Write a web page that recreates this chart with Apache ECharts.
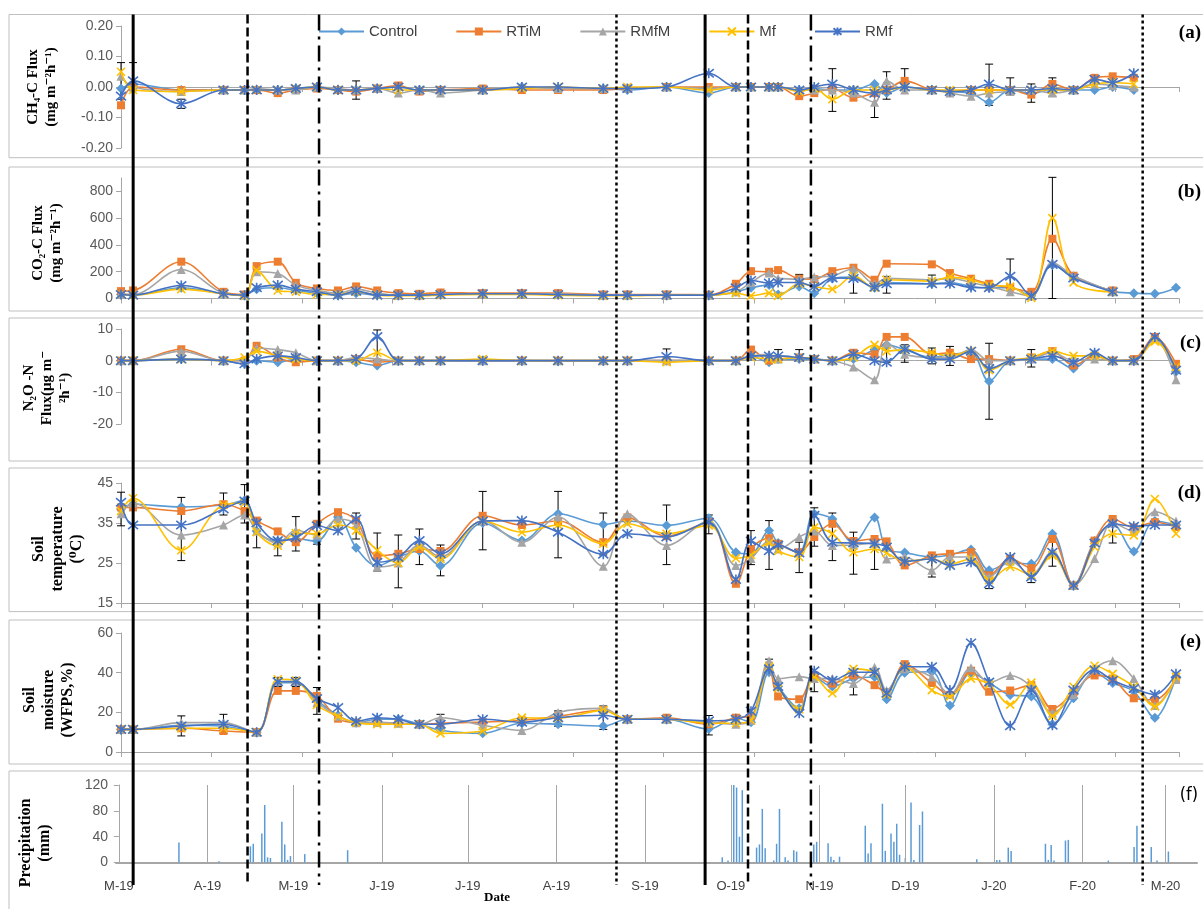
<!DOCTYPE html>
<html>
<head>
<meta charset="utf-8">
<script src="https://cdn.jsdelivr.net/npm/echarts@6/dist/echarts.min.js"></script>
<style>
  html, body { margin: 0; padding: 0; background: #fff; }
  #chart { width: 1203px; height: 909px; }
</style>
</head>
<body>
<div id="chart"></div>
<script>
// sampling days (day 0 = first sampling, Mar 2019)
const sampleDays = [0, 4, 20, 34, 41, 45, 52, 58, 65, 72, 78, 85, 92, 99, 106, 120, 133, 145, 160, 168,
  181, 195, 204, 209, 215, 218, 225, 230, 236, 243, 250, 254, 260, 269, 275, 282, 288, 295, 302, 309,
  316, 323, 329, 336, 343, 350];
const treatments = ['Control', 'RTiM', 'RMfM', 'Mf', 'RMf'];

// (a) CH4-C flux, one row per treatment
const ch4Flux = [
  [-0.005, 0.01, -0.01, -0.01, -0.01, -0.01, -0.01, -0.005, 0, -0.01, -0.01, -0.005, 0, -0.01, -0.01, -0.01, 0, -0.005, -0.005, -0.01,
    0, -0.02, 0, 0, 0, 0, -0.01, -0.005, -0.01, -0.01, 0.01, -0.02, 0, -0.01, -0.015, -0.02, -0.05, -0.01, -0.02, -0.01,
    -0.01, -0.01, 0, -0.01, null, null],
  [-0.06, 0, -0.01, -0.01, -0.01, -0.01, -0.02, -0.01, -0.005, -0.01, -0.015, -0.005, 0.005, -0.015, -0.01, -0.005, -0.01, -0.01, -0.01, -0.005,
    0, 0, 0, 0, 0, 0, -0.03, -0.02, -0.005, -0.035, -0.02, -0.01, 0.02, -0.01, -0.015, -0.01, -0.01, -0.01, -0.025, 0.01,
    -0.01, 0.03, 0.035, 0.03, null, null],
  [0.035, 0, -0.015, -0.01, -0.01, -0.005, -0.01, -0.01, 0, -0.005, -0.01, -0.005, -0.02, -0.01, -0.02, -0.01, 0, -0.005, -0.005, -0.005,
    0, -0.005, 0, 0, 0, 0, -0.01, -0.01, -0.01, -0.02, -0.05, 0.02, -0.01, -0.01, -0.02, -0.03, -0.02, -0.015, -0.01, -0.02,
    -0.01, 0.01, 0.005, 0, null, null],
  [0.05, -0.01, -0.015, -0.01, -0.01, -0.01, -0.01, -0.005, 0, -0.01, -0.01, -0.005, -0.01, -0.01, -0.01, -0.01, -0.005, 0, -0.005, 0,
    0, -0.01, 0, 0, 0, 0, -0.015, -0.005, -0.04, -0.01, -0.01, -0.01, 0, -0.01, -0.01, -0.01, -0.01, -0.01, -0.01, -0.01,
    -0.01, 0.01, 0.015, 0.01, null, null],
  [-0.03, 0.02, -0.055, -0.01, -0.01, -0.01, -0.01, -0.005, 0, -0.01, -0.01, -0.005, 0, -0.01, -0.01, -0.01, 0, 0, -0.005, -0.005,
    0, 0.045, 0, 0, 0, 0, -0.01, 0, 0.01, -0.01, -0.02, -0.01, 0, -0.01, -0.015, -0.01, 0.01, -0.01, -0.01, -0.005,
    -0.01, 0.025, 0.015, 0.045, null, null]
];
const ch4Errors = [[0, -0.04, 0.08], [4, -0.01, 0.08], [20, -0.07, -0.04], [78, -0.04, 0.02], [236, -0.08, 0.06],
  [250, -0.1, -0.01], [254, -0.04, 0.05], [260, -0.01, 0.06], [288, -0.06, 0.075], [295, -0.01, 0.03],
  [302, -0.05, 0.01], [309, -0.03, 0.03]];

// (b) CO2-C flux
const co2Flux = [
  [30, 25, 80, 35, 25, 70, 80, 60, 40, 25, 40, 25, 25, 25, 30, 35, 35, 30, 25, 25,
    25, 25, 50, 80, 100, 30, 90, 40, 150, 160, 80, 120, null, 110, 120, 90, 80, 80, 20, 250,
    165, null, 55, 40, 35, 80],
  [55, 60, 275, 50, 30, 242, 275, 117, 75, 60, 90, 60, 40, 35, 45, 40, 40, 40, 30, 30,
    30, 28, 110, 204, 200, 212, 148, 145, 204, 230, 140, 260, null, 255, 190, 148, 110, 80, 50, 446,
    170, null, 60, null, null, null],
  [35, 30, 217, 40, 25, 200, 187, 100, 60, 40, 70, 40, 25, 25, 30, 35, 35, 35, 25, 25,
    25, 25, 50, 120, 190, 150, 145, 160, 170, 220, 110, 150, null, 140, 150, 120, 90, 50, 20, 268,
    170, null, 50, null, null, null],
  [30, 25, 70, 35, 20, 210, 60, 50, 30, 30, 50, 25, 20, 20, 25, 30, 30, 25, 20, 20,
    25, 25, 40, 20, 40, 20, 110, 90, 70, 170, 80, 140, null, 130, 160, 140, 100, 89, 5, 600,
    120, null, 50, null, null, null],
  [30, 25, 97, 35, 25, 80, 100, 70, 50, 25, 55, 25, 25, 25, 30, 35, 35, 30, 25, 25,
    25, 25, 80, 135, 115, 120, 120, 90, 153, 150, 85, 110, null, 110, 110, 82, 80, 166, 20, 255,
    153, null, 50, null, null, null]
];
const co2Errors = [[58, 60, 110], [225, 120, 180], [243, 40, 140], [254, 40, 165], [269, 130, 175],
  [295, 80, 295], [309, 0, 905]];

// (c) N2O-N flux
const n2oFlux = [
  [0, 0, 0.5, 0, -1, 0, -0.5, 0.5, 0, 0, -0.5, -1.5, 0, 0, 0, 0, 0, -0.2, 0, 0,
    0, 0, 0, 1.5, -0.5, 0.5, 0.5, 0.5, 0, 0.5, 3.5, 5, 3.5, 1, 2, 2.5, -6.5, 0, 0.5, 0.5,
    -2.5, 2, 0, 0, 7, -3.5],
  [0, 0, 3.6, 0, 0, 4.7, 1, -0.5, 0, 0, 0.5, -0.5, 0, 0, 0, 0, 0, 0, 0, 0,
    0, 0, 0, 3.5, 0, 0.5, 1, 0.5, 0, 2.5, 2, 7.5, 7.5, 2, 2.5, 0.5, 0.5, 0, 1, 3,
    -1.5, 1.5, 0, 0.5, 7.5, -1],
  [0, 0, 3, 0, 0, 4, 3.5, 2.5, 0, 0, 1, 0.5, 0, 0, 0, 0, 0, 0, 0, 0,
    0, 0, 0, 1.5, 2, 0.5, 1, 0.5, 0, -2, -6, 5.5, 2, 1, 1, 3.5, 0, 0, 0.5, 2.5,
    0, 0.5, 0, 0, 7, -6],
  [0, 0, 0.5, 0, 1, 3, 1.5, 0.5, 0, 0, 0, 2.5, 0, 0, 0, 0.5, 0, 0, 0, 0,
    -0.5, 0, 0, 1, 0.5, 0.5, 1, 0.5, 0, 1, 5, 3, 3.5, 2.5, 1.5, 3, -3, 0, 1, 3,
    1.5, 1.5, 0, 0, 6, -2],
  [0, 0, 0.5, 0, -1, 0.5, 1.5, 1, 0, 0, 0.5, 7.6, 0, 0, 0, 0, 0, 0, 0, 0,
    1.3, 0, 0, 1.5, 1.5, 1.5, 1, 0.5, 0, 2, 0, -0.5, 3.5, 0.5, 0.5, 3, -2.5, 0, 0.5, 1.5,
    -0.5, 2.5, 0, 0, 7.5, -3]
];
const n2oErrors = [[85, 0, 9.7], [181, 0, 3.7], [218, 0, 3.5], [225, 0, 3.5], [254, -0.5, 4], [260, -0.5, 5],
  [269, -1, 4], [275, -1.5, 4.5], [288, -18.5, 5.5], [302, -2, 3.5]];

// (d) soil temperature
const soilTemp = [
  [38.5, 39.7, 39, 39.5, 40.6, 33, 30.5, 31, 30.5, 36.5, 28.8, 24.3, 26.5, 28, 24.3, 35, 30.6, 37.3, 34.6, 35.5,
    34.4, 36.2, 27.7, 27.3, 33.1, 30, 27.7, 37.3, 36, 30, 36.4, 28.5, 27.6, 26.5, 27, 28.4, 23.2, 25, 24.8, 32.3,
    19.4, 30.5, 34.8, 27.9, 35.5, 34.5],
  [38.9, 38.9, 38, 39.7, 38, 35.6, 32.9, 30.2, 34.8, 37.7, 35.6, 26.8, 27.3, 28.5, 28, 36.8, 34.5, 35.5, 30.2, 36.4,
    31.7, 35.2, 19.8, 28.5, 31.2, 29.8, 27.7, 31.5, 34.8, 30.5, 31, 30.4, 24.4, 26.9, 27.3, 27.7, 21.9, 26.1, 23.7, 31,
    19.4, 30.6, 36, 33.9, 35.2, 34],
  [37.3, 40, 32, 34.5, 37, 33, 30, 33.2, 32, 36, 34.5, 24, 25, 29.5, 26.5, 35.5, 30.2, 36.5, 24.2, 37.3,
    29.4, 35.5, 24.4, 26.1, 30.5, 28.5, 31.5, 33, 29.4, 29.5, 30, 26, 26.5, 23.2, 26.5, 26.5, 21.5, 25.5, 22, 28,
    19.4, 26.1, 35, 33, 37.8, 35.5],
  [38, 41.2, 28.2, 39.5, 40, 32.7, 29.3, 32.5, 32.3, 34.5, 33.1, 28.2, 25, 29, 26, 35.5, 32.7, 34.5, 29.8, 34.8,
    32.3, 34.4, 26.2, 27, 30, 28, 26.5, 33.9, 32.3, 27.7, 28.5, 27.5, 25.5, 26, 24.8, 26, 20.7, 24, 22, 26.9,
    19.4, 29, 32.3, 31.9, 41, 32.3],
  [40.2, 34.5, 34.5, 38.5, 40.5, 35, 30.6, 31.3, 34.3, 33.1, 36, 25.2, 26.4, 30.6, 27.3, 35.5, 35.6, 32.7, 27.2, 32.3,
    31.5, 35.2, 20.9, 30.5, 28.1, 29.5, 27.5, 36.9, 30.2, 30, 29.8, 29, 25.4, 26, 24.4, 25.2, 19.8, 26.5, 21.5, 27.7,
    19.4, 30, 34.8, 34.2, 34.5, 34.5]
];
const tempErrors = [[0, 34.3, 42.7], [20, 25.6, 41.4], [34, 37, 42.5], [41, 35, 44.6], [45, 28.8, 36], [52, 26.8, 31],
  [58, 28, 36.6], [65, 29.7, 34.5], [78, 31, 37.5], [85, 23, 32.5], [92, 18.8, 32], [99, 24.6, 33.5],
  [106, 21.8, 29.5], [120, 28.3, 42.9], [145, 26.3, 42.9], [160, 27, 37.5], [181, 24.6, 39.5], [195, 32.3, 37],
  [209, 24.6, 33.1], [215, 23.4, 35.6], [225, 22.6, 30.2], [230, 29.2, 38.8], [236, 25.6, 37.5], [243, 22.2, 32.7],
  [250, 23.4, 31], [269, 21.5, 26.5], [288, 18.6, 23], [302, 20.1, 24], [309, 24.2, 31], [329, 30, 36]];

// (e) soil moisture (WFPS, %)
const soilMoisture = [
  [11.4, 11.4, 13.5, 13, null, 10, 35, 35, 26, 18.5, 14.8, 16.5, 16.5, 14, 11, 9.4, 14.5, 14, 13.1, 16.5,
    16.5, 11.6, 17, 15, 40.2, 33, 22, 38, 33, 37, 37.8, 26.6, 40, 40.5, 23.4, 40, 35, 28.8, 28, 14,
    27.1, 40, 34.8, 30.5, 17.3, 38],
  [11.4, 11.4, 12, 10.6, null, 10, 30.8, 30.8, 28.3, 16.8, 14.8, 14.8, 14.5, 14, 14.5, 15.1, 16, 18, 21.2, 16.5,
    17.3, 14, 17.3, 18.1, 43.5, 28, 26.6, 38.6, 34.5, 38.6, 33.7, 30, 44.3, 34.8, 28.8, 41, 30.4, 31, 33.7, 21.7,
    30, 38.6, 37, 27.1, 26.3, 37],
  [11.4, 11.4, 14.8, 14.8, null, 10, 35.5, 35.5, 25, 18, 14.8, 15, 14.5, 14, 17.3, 13.5, 10.9, 19.9, 22, 16.5,
    16.5, 15, 14, 16, 46, 37, 38, 37, 37, 34.5, 42.7, 31, 42, 37.8, 29, 42.5, 35, 38.6, 33, 19.7,
    29, 41.9, 46, 37, 23.5, 36.5],
  [11.4, 11.4, 12, 12, null, 10, 36.7, 36, 23.7, 18, 14.8, 14, 14, 14, 9.4, 10.6, 17.3, 17, 21, 16.5,
    16.5, 14.5, 14.5, 16, 43, 32, 21.5, 38, 29.6, 41.9, 40, 29, 43, 31.2, 28, 37, 34, 23.9, 35, 18.1,
    32.9, 43.5, 39.4, 33, 23, 38],
  [11.4, 11.4, 13.1, 14, null, 10, 35.4, 35.5, 27, 22.4, 15.5, 17.3, 16.5, 14, 14, 16.5, 15, 17.3, 18.5, 16.5,
    16.5, 15.7, 16.5, 20.6, 41.9, 33, 19.5, 41, 36.1, 40.2, 40.2, 29.6, 43, 43, 31.2, 55, 35.3, 13.2, 31.2, 13.5,
    31.2, 41.4, 36.1, 32, 29, 39.4]
];
const moistErrors = [[20, 8.1, 18.2], [34, 9.5, 19], [52, 33, 37.6], [58, 33, 37.6], [65, 19, 32.5], [106, 12, 19],
  [145, 13, 20.7], [160, 11.4, 23.2], [195, 8.6, 18.4], [215, 40, 46.8], [230, 30.4, 40], [243, 28.8, 38],
  [309, 14, 23]];

// (f) daily precipitation, day 0 = 1 Mar 2019
const rainDays = [21, 35, 46, 47, 50, 51, 52, 53, 57, 58, 59, 60, 65, 80, 211, 213, 215, 216, 217, 218, 220, 223, 224,
  225, 226, 229, 230, 231, 233, 234, 236, 237, 243, 244, 248, 249, 250, 252, 261, 262, 263, 267, 268, 270, 271, 272,
  273, 275, 277, 278, 280, 281, 300, 307, 308, 311, 312, 324, 325, 326, 327, 331, 332, 346, 355, 356, 361, 363, 367];
const rainMm = [31, 2, 25, 29, 45, 89, 8, 7, 63, 28, 4, 10, 13, 19, 8, 3, 120, 116, 40, 112, 5, 23, 28,
  83, 22, 3, 29, 83, 8, 3, 19, 17, 28, 32, 30, 9, 4, 9, 57, 14, 30, 91, 18, 45, 32, 60,
  12, 7, 93, 4, 58, 79, 5, 4, 4, 23, 18, 29, 4, 27, 3, 34, 35, 3, 24, 57, 24, 3, 17];
const monthDays = [0, 31, 61, 92, 122, 153, 184, 214, 245, 275, 306, 337, 366];
const monthLabels = ['M-19', 'A-19', 'M-19', 'J-19', 'J-19', 'A-19', 'S-19', 'O-19', 'N-19', 'D-19', 'J-20', 'F-20', 'M-20'];

// management events drawn across all panels (same day scale as precipitation)
const eventDays = [5, 45, 70, 174, 205, 220, 242, 358];
const eventKinds = ['solid', 'dashed', 'dashdot', 'dotted', 'solid', 'dashed', 'dashdot', 'dotted'];

const colors = ['#5B9BD5', '#ED7D31', '#A5A5A5', '#FFC000', '#4472C4'];
const markers = ['diamond', 'rect', 'triangle', 'path://M0,0L10,10M10,0L0,10', 'path://M0,0L10,10M10,0L0,10M5,-1L5,11'];
const markerSizes = [10, 8, 9, 8, 10];
const axisGrey = '#A6A6A6';
const tickFont = { fontFamily: 'Liberation Sans', fontSize: 14, color: '#595959' };

const chart = echarts.init(document.getElementById('chart'));

const grids = [
  { left: 121, right: 24, top: 26, height: 122 },
  { left: 121, right: 24, top: 178, height: 120.5 },
  { left: 121, right: 24, top: 329, height: 95 },
  { left: 121, right: 24, top: 483, height: 120 },
  { left: 121, right: 24, top: 633, height: 119 },
  { left: 116, right: 6, top: 785, height: 77.5 }
];

const panels = [
  { values: ch4Flux, errors: ch4Errors },
  { values: co2Flux, errors: co2Errors },
  { values: n2oFlux, errors: n2oErrors },
  { values: soilTemp, errors: tempErrors },
  { values: soilMoisture, errors: moistErrors }
];

const xAxes = [];
for (let i = 0; i < 5; i++) {
  xAxes.push({
    type: 'value', gridIndex: i, min: 0, max: 351, interval: 30,
    axisLine: { lineStyle: { color: axisGrey } },
    axisTick: { show: true, length: 5, lineStyle: { color: axisGrey } },
    axisLabel: { show: false },
    splitLine: { show: false }
  });
}
xAxes.push({
  type: 'value', gridIndex: 5, min: -1, max: 377,
  axisLine: { onZero: false, lineStyle: { color: axisGrey, width: 2 } },
  axisTick: { show: false },
  axisLabel: {
    customValues: monthDays, margin: 17,
    fontFamily: 'Liberation Sans', fontSize: 13, color: '#404040',
    formatter: v => monthLabels[monthDays.indexOf(v)] || ''
  },
  splitLine: { show: false }
});

function yAxis(i, opts) {
  return Object.assign({
    type: 'value', gridIndex: i,
    axisLine: { show: true, lineStyle: { color: axisGrey } },
    axisTick: { show: true, length: 5, lineStyle: { color: axisGrey } },
    axisLabel: Object.assign({ margin: 8 }, tickFont),
    splitLine: { show: false }
  }, opts);
}
const yAxes = [
  yAxis(0, { min: -0.2, max: 0.2, interval: 0.1,
    axisLabel: Object.assign({ margin: 8, formatter: v => (Math.abs(v) < 1e-9 ? 0 : v).toFixed(2) }, tickFont) }),
  yAxis(1, { min: 0, max: 900, interval: 200, axisLabel: Object.assign({ margin: 8, showMaxLabel: false }, tickFont) }),
  yAxis(2, { min: -20, max: 10, interval: 10 }),
  yAxis(3, { min: 15, max: 45,
    axisTick: { show: true, length: 5, customValues: [15, 25, 35, 45], lineStyle: { color: axisGrey } },
    axisLabel: Object.assign({ margin: 8, customValues: [15, 25, 35, 45] }, tickFont) }),
  yAxis(4, { min: 0, max: 60, interval: 20 }),
  yAxis(5, { min: 0, max: 120, interval: 40 })
];

function renderErr(params, api) {
  const x = api.value(0);
  const hi = api.coord([x, api.value(2)]);
  const lo = api.coord([x, api.value(1)]);
  const cap = 4;
  return {
    type: 'group',
    children: [
      { type: 'line', shape: { x1: hi[0], y1: hi[1], x2: lo[0], y2: lo[1] }, style: { stroke: '#000', lineWidth: 1 } },
      { type: 'line', shape: { x1: hi[0] - cap, y1: hi[1], x2: hi[0] + cap, y2: hi[1] }, style: { stroke: '#000', lineWidth: 1 } },
      { type: 'line', shape: { x1: lo[0] - cap, y1: lo[1], x2: lo[0] + cap, y2: lo[1] }, style: { stroke: '#000', lineWidth: 1 } }
    ]
  };
}

const series = [];
panels.forEach((p, pi) => {
  series.push({
    name: 'err' + pi, type: 'custom', xAxisIndex: pi, yAxisIndex: pi,
    renderItem: renderErr, encode: { x: 0, y: [1, 2] }, data: p.errors, z: 1, silent: true
  });
  treatments.forEach((t, ti) => {
    const strokeOnly = ti >= 3;
    series.push({
      name: t, type: 'line', xAxisIndex: pi, yAxisIndex: pi,
      data: sampleDays.map((d, k) => [d, p.values[ti][k]]),
      smooth: 0.35, connectNulls: true, showAllSymbol: true,
      symbol: markers[ti], symbolSize: markerSizes[ti],
      lineStyle: { color: colors[ti], width: 1.6 },
      itemStyle: { color: colors[ti], borderColor: colors[ti], borderWidth: strokeOnly ? 1.6 : 0 },
      z: 2 + ti
    });
  });
});
series.push({
  name: 'Precipitation', type: 'bar', xAxisIndex: 5, yAxisIndex: 5,
  data: rainDays.map((d, k) => [d, rainMm[k]]),
  barWidth: 1.5, itemStyle: { color: '#5B9BD5' },
  markLine: {
    silent: true, symbol: 'none', label: { show: false },
    lineStyle: { color: axisGrey, type: 'solid', width: 1 },
    data: monthDays.slice(1).map(d => ({ xAxis: d }))
  }
});

chart.setOption({
  animation: false,
  backgroundColor: '#fff',
  grid: grids,
  xAxis: xAxes,
  yAxis: yAxes,
  legend: {
    data: treatments, top: 19, left: 313, itemGap: 38, itemWidth: 45, itemHeight: 10,
    textStyle: { fontFamily: 'Liberation Sans', fontSize: 15, color: '#404040' }
  },
  series: series
});

// static decorations
const serif = '"Liberation Serif", "DejaVu Serif", serif';
const graphics = [];
const boxes = [[14.5, 157.7], [167, 311], [318, 461], [468, 611.6], [620, 764], [771, 920]];
boxes.forEach(b => graphics.push({
  type: 'rect', z: -10, silent: true,
  shape: { x: 9, y: b[0], width: 1210, height: b[1] - b[0] },
  style: { fill: 'none', stroke: '#BFBFBF', lineWidth: 1 }
}));
const titles = [
  ['CH₄-C Flux\n(mg m⁻²h⁻¹)', 42, 87, 15],
  ['CO₂-C Flux\n(mg m⁻²h⁻¹)', 47, 243, 15],
  ['N₂O -N\nFlux(μg m⁻\n²h⁻¹)', 47, 388, 15],
  ['Soil\ntemperature\n(⁰C)', 58, 549, 16],
  ['Soil\nmoisture\n(WFPS,%)', 49, 700, 16],
  ['Precipitation\n(mm)', 35, 843, 16]
];
titles.forEach(t => graphics.push({
  type: 'text', x: t[1], y: t[2], rotation: Math.PI / 2, silent: true,
  style: { text: t[0], textAlign: 'center', verticalAlign: 'middle', lineHeight: t[3] + 3,
    font: 'bold ' + t[3] + 'px ' + serif, fill: '#000' }
}));
const panelTags = [['(a)', 33], ['(b)', 192], ['(c)', 343], ['(d)', 493], ['(e)', 642]];
panelTags.forEach(p => graphics.push({
  type: 'text', x: 1201, y: p[1], silent: true,
  style: { text: p[0], textAlign: 'right', verticalAlign: 'middle', font: 'bold 19px ' + serif, fill: '#000' }
}));
graphics.push({
  type: 'text', x: 1198, y: 795, silent: true,
  style: { text: '(f)', textAlign: 'right', verticalAlign: 'middle', font: '18px "Liberation Sans Narrow", "DejaVu Sans Condensed", sans-serif', fill: '#000' }
});
graphics.push({
  type: 'text', x: 497, y: 898, silent: true,
  style: { text: 'Date', textAlign: 'center', verticalAlign: 'middle', font: 'bold 13px ' + serif, fill: '#000' }
});
const dashes = { solid: null, dashed: [9, 4], dashdot: [16, 6, 3, 6], dotted: [3, 3] };
eventDays.forEach((d, i) => {
  const x = chart.convertToPixel({ xAxisIndex: 5 }, d);
  graphics.push({
    type: 'line', z: 100, silent: true,
    shape: { x1: x, y1: 14.5, x2: x, y2: 885 },
    style: { stroke: '#000', lineWidth: eventKinds[i] === 'solid' ? 3 : 2.5, lineDash: dashes[eventKinds[i]] }
  });
});
chart.setOption({ graphic: graphics });
</script>
</body>
</html>
